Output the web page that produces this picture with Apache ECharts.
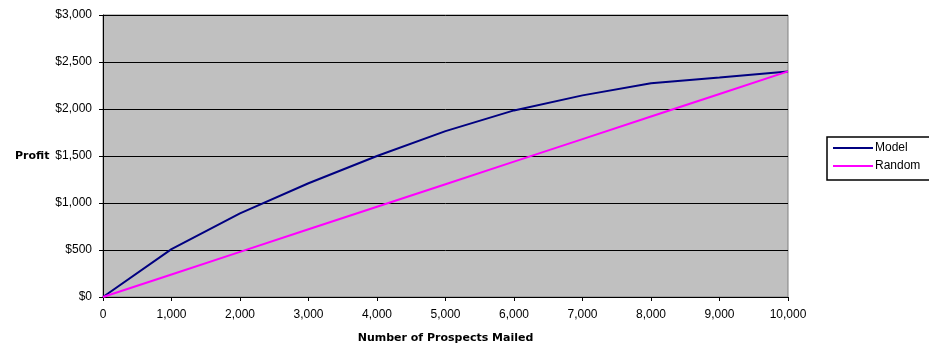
<!DOCTYPE html>
<html>
<head>
<meta charset="utf-8">
<script src="https://cdn.jsdelivr.net/npm/echarts@6/dist/echarts.min.js"></script>
<style>
html, body { margin: 0; padding: 0; background: #fff; }
#main { width: 929px; height: 349px; }
</style>
</head>
<body>
<div id="main"></div>
<script>
var prospects = [0, 1000, 2000, 3000, 4000, 5000, 6000, 7000, 8000, 9000, 10000];
var modelProfit = [0, 510, 890, 1210, 1500, 1765, 1985, 2145, 2275, 2335, 2400];
var randomProfit = [0, 240, 480, 720, 960, 1200, 1440, 1680, 1920, 2160, 2400];

function pairs(xs, ys) {
    return xs.map(function (x, i) { return [x, ys[i]]; });
}
function comma(v) {
    return String(v).replace(/\B(?=(\d{3})+(?!\d))/g, ',');
}

var myChart = echarts.init(document.getElementById('main'));
var option = {
    backgroundColor: '#fff',
    textStyle: { fontFamily: 'Liberation Sans, Arial, sans-serif' },
    animation: false,
    grid: {
        left: 103,
        right: 141,
        top: 15,
        bottom: 52,
        show: true,
        backgroundColor: '#c0c0c0',
        borderColor: '#808080',
        borderWidth: 1
    },
    legend: {
        left: 827,
        top: 137,
        orient: 'vertical',
        backgroundColor: '#fff',
        borderColor: '#000',
        borderWidth: 1.5,
        padding: [5, 20, 8, 6],
        itemWidth: 40,
        itemHeight: 2,
        itemGap: 6,
        icon: 'rect',
        data: ['Model', 'Random'],
        textStyle: { color: '#000', fontSize: 12, padding: [0, 0, 0, -3] }
    },
    xAxis: {
        type: 'value',
        min: 0,
        max: 10000,
        interval: 1000,
        name: 'Number of Prospects Mailed',
        nameLocation: 'middle',
        nameGap: 36,
        nameTextStyle: { color: '#000', fontSize: 11, fontWeight: 'bold', fontFamily: 'DejaVu Sans' },
        axisLine: { show: true, lineStyle: { color: '#000', width: 1 } },
        axisTick: { show: true, inside: false, length: 4, lineStyle: { color: '#000' } },
        axisLabel: { color: '#000', fontSize: 12, margin: 12, formatter: function (v) { return comma(v); } },
        splitLine: { show: false }
    },
    yAxis: {
        type: 'value',
        min: 0,
        max: 3000,
        interval: 500,
        name: 'Profit',
        nameLocation: 'middle',
        nameRotate: 0,
        nameGap: 53,
        nameTextStyle: { color: '#000', fontSize: 11, fontWeight: 'bold', fontFamily: 'DejaVu Sans' },
        axisLine: { show: true, lineStyle: { color: '#000', width: 1 } },
        axisTick: { show: true, inside: false, length: 4, lineStyle: { color: '#000' } },
        axisLabel: { color: '#000', fontSize: 12, margin: 11, formatter: function (v) { return '$' + comma(v); } },
        splitLine: { show: true, lineStyle: { color: '#000', width: 1 } }
    },
    series: [
        {
            name: 'Model',
            type: 'line',
            symbol: 'none',
            data: pairs(prospects, modelProfit),
            lineStyle: { color: '#000080', width: 2 },
            itemStyle: { color: '#000080' }
        },
        {
            name: 'Random',
            type: 'line',
            symbol: 'none',
            data: pairs(prospects, randomProfit),
            lineStyle: { color: '#ff00ff', width: 2 },
            itemStyle: { color: '#ff00ff' }
        }
    ]
};
myChart.setOption(option);
</script>
</body>
</html>
